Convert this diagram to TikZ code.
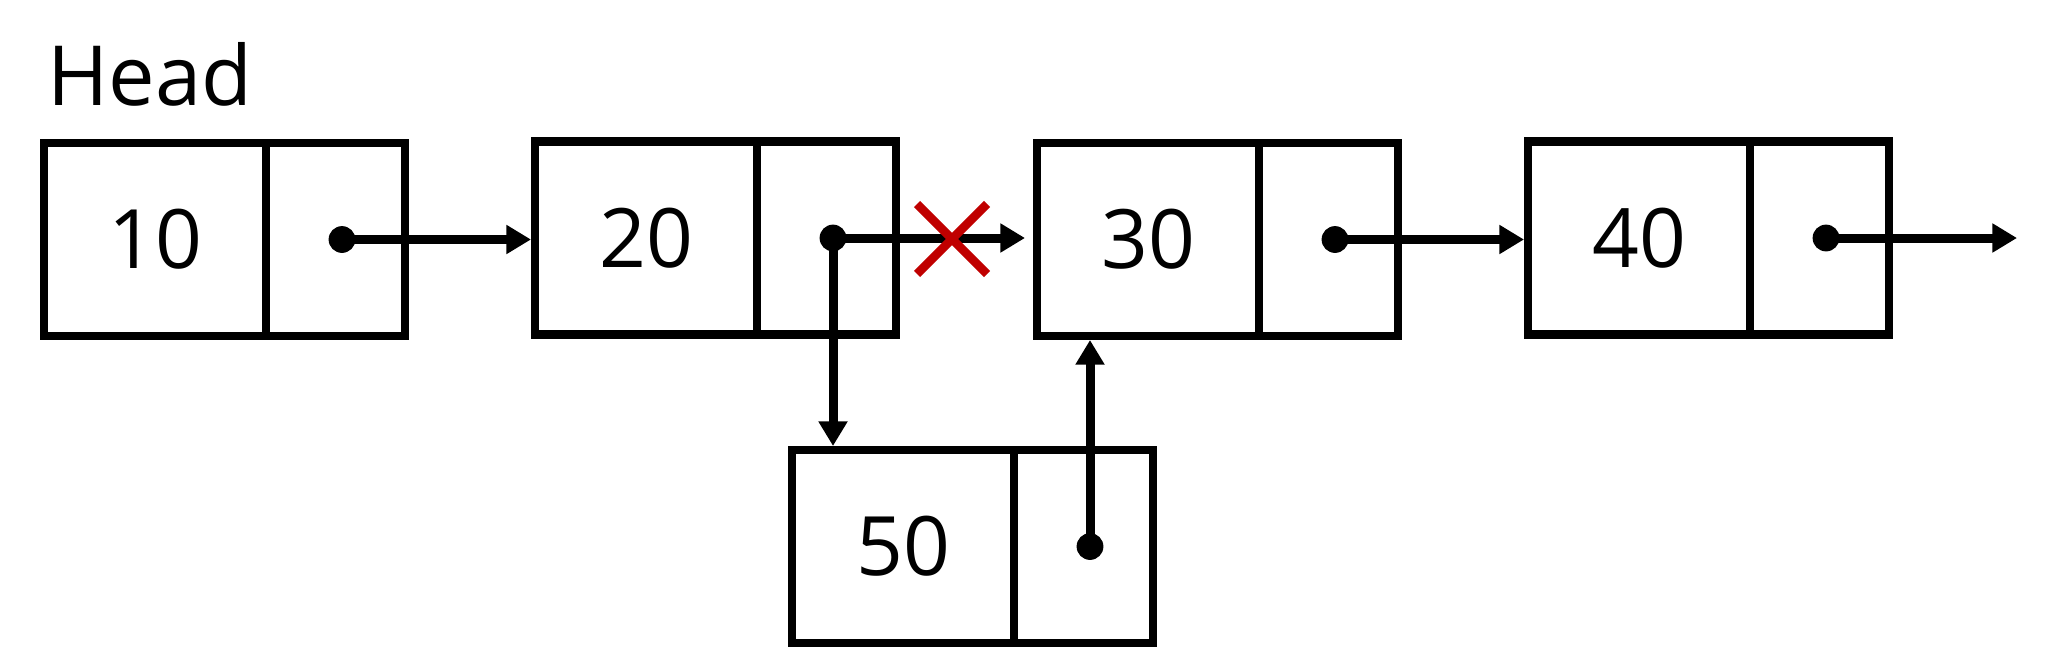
\documentclass[tikz,border=0pt]{standalone}
\usepackage{fontspec}
\setmainfont{Open Sans}
\usetikzlibrary{arrows.meta,calc}
\definecolor{crossred}{HTML}{C00000}
\begin{document}
\begin{tikzpicture}[x=0.5pt,y=-0.5pt,
  box/.style={draw=black,line width=4.4pt,minimum height=96.5pt,inner sep=0pt,outer sep=0pt,anchor=north west},
  datapart/.style={box,minimum width=111pt,font=\fontsize{41}{48}\selectfont},
  ptrpart/.style={box,minimum width=69.5pt},
  dot/.style={circle,fill=black,minimum size=13.4pt,inner sep=0pt},
  arr/.style={line width=4.5pt,-{Triangle[length=12.3pt,width=13.8pt]},shorten >=2pt},
  cross/.style={draw=crossred,line width=4.3pt}
]
\useasboundingbox (0,0) rectangle (2048,648);

\node[anchor=base west,inner sep=0pt,font=\fontsize{41.5}{48}\selectfont] (head) at (47,105) {Head};

% nodes: data part, pointer part, dot
\node[datapart] (d1) at (44,143) {10};
\node[ptrpart] (p1) at (d1.north east) {};
\node[dot] (dot1) at ([xshift=3.25pt]p1.center) {};

\node[datapart] (d2) at (535,141.5) {20};
\node[ptrpart] (p2) at (d2.north east) {};
\node[dot] (dot2) at ([xshift=3.25pt]p2.center) {};

\node[datapart] (d3) at (1037,143) {30};
\node[ptrpart] (p3) at (d3.north east) {};
\node[dot] (dot3) at ([xshift=3.25pt]p3.center) {};

\node[datapart] (d4) at (1528,141.5) {40};
\node[ptrpart] (p4) at (d4.north east) {};
\node[dot] (dot4) at ([xshift=3.25pt]p4.center) {};

\node[datapart] (d5) at (792,450) {50};
\node[ptrpart] (p5) at (d5.north east) {};
\node[dot] (dot5) at ([xshift=3.25pt]p5.center) {};

\coordinate (nil) at (2021,239);
\coordinate (cut) at (952,239);

% connectors
\draw[arr] (dot1.center) -- (dot1.center -| d2.west);
\draw[arr,shorten >=6pt] (dot2.center) -- (dot2.center -| d3.west);
\draw[arr] (dot3.center) -- (dot3.center -| d4.west);
\draw[arr] (dot4.center) -- (dot4.center -| nil);
\draw[arr] (dot2.center) -- (dot2.center |- d5.north);
\draw[arr] (dot5.center) -- (dot5.center |- d3.south);

% removed link
\draw[cross] ($(cut)+(-35,-35)$) -- ($(cut)+(35,35)$);
\draw[cross] ($(cut)+(-35,35)$) -- ($(cut)+(35,-35)$);
\end{tikzpicture}
\end{document}
